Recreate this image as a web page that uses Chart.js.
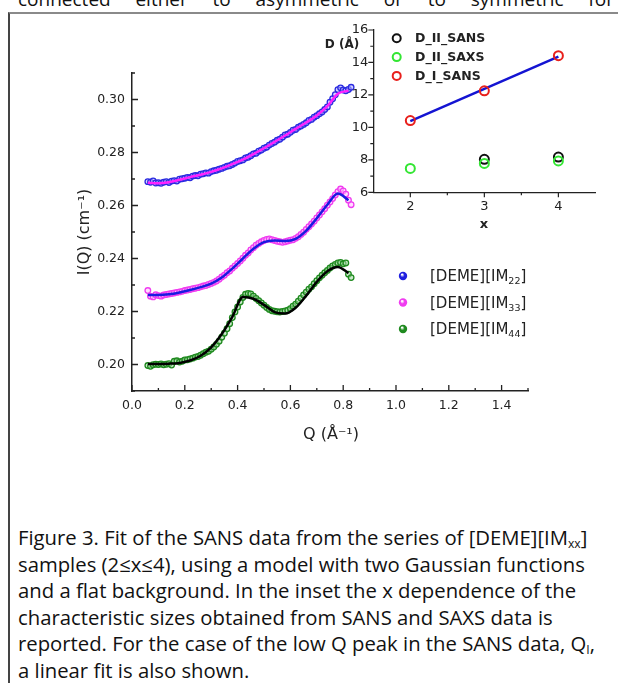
<!DOCTYPE html>
<html>
<head>
<meta charset="utf-8">
<script src="https://cdn.jsdelivr.net/npm/chart.js@4.4.1/dist/chart.umd.min.js"></script>
<style>
html, body { margin: 0; padding: 0; background: #fff; }
body { width: 618px; height: 683px; overflow: hidden; position: relative; font-family: "Open Sans", sans-serif; color: #111; }
#topline { position: absolute; left: 18px; top: -14px; width: 596px; font-size: 19px; display: flex; justify-content: space-between; white-space: nowrap; }
#box { position: absolute; left: 8px; top: 12px; width: 700px; height: 700px; border-left: 2px solid #444; border-top: 2px solid #8a8a8a; }
#main { position: absolute; left: 0; top: 0; }
#inset { position: absolute; left: 300px; top: 10px; }
#caption { position: absolute; left: 18px; top: 524px; line-height: 26.6px; white-space: nowrap; font-size: 18px; }
#caption sub { font-size: 60%; vertical-align: -3px; line-height: 0; }
</style>
</head>
<body>
<div id="topline"><span>connected</span><span>either</span><span>to</span><span>asymmetric</span><span>or</span><span>to</span><span>symmetric</span><span>for</span></div>
<div id="box"></div>
<canvas id="main" width="618" height="470"></canvas>
<canvas id="inset" width="318" height="240"></canvas>
<div id="caption">
<span class="ln">Figure 3. Fit of the SANS data from the series of [DEME][IM<sub>xx</sub>]</span><br>
<span class="ln" id="ref">samples (2≤x≤4), using a model with two Gaussian functions</span><br>
<span class="ln">and a flat background. In the inset the x dependence of the</span><br>
<span class="ln">characteristic sizes obtained from SANS and SAXS data is</span><br>
<span class="ln">reported. For the case of the low Q peak in the SANS data, Q<sub>I</sub>,</span><br>
<span class="ln">a linear fit is also shown.</span>
</div>
<script>
// main plot: Q values of the measured points
const qData = [0.06, 0.07, 0.08, 0.09, 0.10, 0.11, 0.12, 0.13, 0.14, 0.15,
  0.16, 0.17, 0.18, 0.19, 0.20, 0.21, 0.22, 0.23, 0.24, 0.25,
  0.26, 0.27, 0.28, 0.29, 0.30, 0.31, 0.32, 0.33, 0.34, 0.35,
  0.36, 0.37, 0.38, 0.39, 0.40, 0.41, 0.42, 0.43, 0.44, 0.45,
  0.46, 0.47, 0.48, 0.49, 0.50, 0.51, 0.52, 0.53, 0.54, 0.55,
  0.56, 0.57, 0.58, 0.59, 0.60, 0.61, 0.62, 0.63, 0.64, 0.65,
  0.66, 0.67, 0.68, 0.69, 0.70, 0.71, 0.72, 0.73, 0.74, 0.75,
  0.76, 0.77, 0.78, 0.79, 0.80, 0.81, 0.82, 0.83];

const im22 = [0.2690, 0.2688, 0.2693, 0.2685, 0.2686, 0.2684, 0.2688, 0.2690, 0.2687, 0.2692,
  0.2694, 0.2692, 0.2699, 0.2701, 0.2703, 0.2706, 0.2705, 0.2711, 0.2713, 0.2712,
  0.2718, 0.2720, 0.2723, 0.2722, 0.2728, 0.2731, 0.2733, 0.2737, 0.2740, 0.2744,
  0.2748, 0.2750, 0.2755, 0.2760, 0.2766, 0.2769, 0.2772, 0.2779, 0.2782, 0.2788,
  0.2795, 0.2797, 0.2805, 0.2809, 0.2816, 0.2820, 0.2828, 0.2834, 0.2839, 0.2846,
  0.2850, 0.2858, 0.2866, 0.2869, 0.2876, 0.2884, 0.2887, 0.2895, 0.2900, 0.2906,
  0.2912, 0.2921, 0.2925, 0.2933, 0.2939, 0.2946, 0.2953, 0.2962, 0.2972, 0.2990,
  0.3003, 0.3018, 0.3037, 0.3044, 0.3036, 0.3033, 0.3038, 0.3046];

const im33 = [0.2279, 0.2258, 0.2255, 0.2263, 0.2260, 0.2258, 0.2262, 0.2264, 0.2266, 0.2268,
  0.2270, 0.2272, 0.2274, 0.2276, 0.2279, 0.2281, 0.2283, 0.2286, 0.2288, 0.2290,
  0.2293, 0.2296, 0.2298, 0.2302, 0.2306, 0.2310, 0.2315, 0.2322, 0.2330, 0.2337,
  0.2346, 0.2353, 0.2363, 0.2372, 0.2381, 0.2391, 0.2401, 0.2412, 0.2421, 0.2432,
  0.2441, 0.2450, 0.2457, 0.2463, 0.2468, 0.2472, 0.2474, 0.2471, 0.2468, 0.2465,
  0.2463, 0.2461, 0.2463, 0.2466, 0.2469, 0.2471, 0.2476, 0.2482, 0.2491, 0.2499,
  0.2510, 0.2520, 0.2530, 0.2541, 0.2553, 0.2564, 0.2576, 0.2588, 0.2601, 0.2613,
  0.2626, 0.2640, 0.2652, 0.2662, 0.2655, 0.2643, 0.2620, 0.2603];

const im44 = [0.1996, 0.1993, 0.1999, 0.2001, 0.2000, 0.2002, 0.1999, 0.2001, 0.2003, 0.1998,
  0.2012, 0.2014, 0.2009, 0.2012, 0.2017, 0.2018, 0.2021, 0.2024, 0.2028, 0.2030,
  0.2035, 0.2041, 0.2046, 0.2050, 0.2058, 0.2066, 0.2076, 0.2088, 0.2103, 0.2118,
  0.2135, 0.2154, 0.2177, 0.2198, 0.2217, 0.2236, 0.2253, 0.2265, 0.2268, 0.2266,
  0.2258, 0.2249, 0.2241, 0.2232, 0.2224, 0.2215, 0.2208, 0.2203, 0.2201, 0.2199,
  0.2198, 0.2200, 0.2202, 0.2205, 0.2211, 0.2220, 0.2228, 0.2239, 0.2250, 0.2262,
  0.2273, 0.2284, 0.2293, 0.2305, 0.2316, 0.2327, 0.2337, 0.2346, 0.2355, 0.2364,
  0.2372, 0.2378, 0.2383, 0.2385, 0.2380, 0.2383, 0.2341, 0.2328];

// fitted curves
const qFit = [0.06, 0.10, 0.14, 0.18, 0.22, 0.26, 0.30, 0.34, 0.38, 0.42,
  0.46, 0.50, 0.54, 0.58, 0.62, 0.66, 0.70, 0.74, 0.78, 0.82];
const fit22 = [0.2686, 0.2684, 0.2688, 0.2697, 0.2707, 0.2716, 0.2727, 0.2740, 0.2756, 0.2773,
  0.2794, 0.2816, 0.2840, 0.2864, 0.2889, 0.2913, 0.2940, 0.2975, 0.3022, 0.3033];
const fit33 = [0.2262, 0.2262, 0.2265, 0.2272, 0.2281, 0.2292, 0.2305, 0.2328, 0.2362, 0.2400,
  0.2437, 0.2462, 0.2468, 0.2466, 0.2474, 0.2505, 0.2552, 0.2603, 0.2645, 0.2620];
const fit44 = [0.2002, 0.2002, 0.2003, 0.2006, 0.2015, 0.2033, 0.2065, 0.2115, 0.2180, 0.2255,
  0.2248, 0.2225, 0.2198, 0.2192, 0.2214, 0.2260, 0.2312, 0.2352, 0.2368, 0.2345];

const mainXTicks = [0.0, 0.2, 0.4, 0.6, 0.8, 1.0, 1.2, 1.4];
const mainXMinor = [0.1, 0.3, 0.5, 0.7, 0.9, 1.1, 1.3, 1.5];
const mainYTicks = [0.20, 0.22, 0.24, 0.26, 0.28, 0.30];
const mainYMinor = [0.19, 0.21, 0.23, 0.25, 0.27, 0.29, 0.31];
const legendSubs = ['22', '33', '44'];
const legendColors = ['#2020e0', '#f03cf0', '#1f8a1f'];

// inset
const insetX = [2, 3, 4];
const dIISans = [null, 8.03, 8.17];
const dIISaxs = [7.47, 7.78, 7.93];
const dISans = [10.42, 12.25, 14.42];
const fitX = [2, 4];
const fitD = [10.39, 14.36];
const insetXTicks = [2, 3, 4];
const insetXMinor = [2.5, 3.5];
const insetYTicks = [6, 8, 10, 12, 14, 16];
const insetYMinor = [7, 9, 11, 13, 15];
const insetLegend = ['D_II_SANS', 'D_II_SAXS', 'D_I_SANS'];
const insetColors = ['#111111', '#33e633', '#e8201c'];

const axisFont = { family: 'DejaVu Sans', size: 12.5 };
const ink = '#222';

function pts(xs, ys) {
  return xs.map((v, i) => ({ x: v, y: ys[i] }));
}

const mainDecor = {
  id: 'mainDecor',
  afterDraw(chart) {
    const { ctx, chartArea: a, scales: { x, y } } = chart;
    ctx.save();
    ctx.strokeStyle = ink;
    ctx.lineWidth = 1.3;
    ctx.beginPath();
    mainXTicks.forEach(v => { const p = x.getPixelForValue(v); ctx.moveTo(p, a.bottom); ctx.lineTo(p, a.bottom - 6); });
    mainXMinor.forEach(v => { const p = x.getPixelForValue(v); ctx.moveTo(p, a.bottom); ctx.lineTo(p, a.bottom - 3); });
    mainYTicks.forEach(v => { const p = y.getPixelForValue(v); ctx.moveTo(a.left, p); ctx.lineTo(a.left + 6, p); });
    mainYMinor.forEach(v => { const p = y.getPixelForValue(v); ctx.moveTo(a.left, p); ctx.lineTo(a.left + 3, p); });
    ctx.stroke();

    ctx.fillStyle = ink;
    ctx.font = '16px "DejaVu Sans"';
    ctx.textAlign = 'center';
    ctx.textBaseline = 'middle';
    ctx.fillText('Q (Å⁻¹)', 331, 435);
    ctx.save();
    ctx.translate(85, 232);
    ctx.rotate(-Math.PI / 2);
    ctx.fillText('I(Q) (cm⁻¹)', 0, 0);
    ctx.restore();

    // legend
    ctx.textAlign = 'left';
    ctx.textBaseline = 'alphabetic';
    legendSubs.forEach((s, i) => {
      const ly = 276 + i * 26.5;
      const g = ctx.createRadialGradient(402, ly - 1.5, 0.5, 403, ly, 4.2);
      g.addColorStop(0, '#ffffff');
      g.addColorStop(0.45, legendColors[i]);
      g.addColorStop(1, legendColors[i]);
      ctx.fillStyle = g;
      ctx.beginPath();
      ctx.arc(403, ly, 4.2, 0, Math.PI * 2);
      ctx.fill();
      ctx.fillStyle = ink;
      ctx.font = '15px "DejaVu Sans"';
      const base = ly + 5;
      ctx.fillText('[DEME][IM', 430, base);
      let w = ctx.measureText('[DEME][IM').width;
      ctx.font = '9.5px "DejaVu Sans"';
      ctx.fillText(s, 430 + w, base + 3);
      w += ctx.measureText(s).width;
      ctx.font = '15px "DejaVu Sans"';
      ctx.fillText(']', 430 + w, base);
    });
    ctx.restore();
  }
};

new Chart(document.getElementById('main'), {
  type: 'scatter',
  data: {
    datasets: [
      { label: 'fit22', data: pts(qFit, fit22), showLine: true, pointRadius: 0, borderColor: '#ff22ff', borderWidth: 2.5, cubicInterpolationMode: 'monotone', order: 0 },
      { label: 'fit33', data: pts(qFit, fit33), showLine: true, pointRadius: 0, borderColor: '#1a1ae0', borderWidth: 2.5, cubicInterpolationMode: 'monotone', order: 0 },
      { label: 'fit44', data: pts(qFit, fit44), showLine: true, pointRadius: 0, borderColor: '#000000', borderWidth: 2.5, cubicInterpolationMode: 'monotone', order: 0 },
      { label: '[DEME][IM22]', data: pts(qData, im22), pointRadius: 2.8, borderWidth: 1.3, borderColor: '#2a2ae0', backgroundColor: 'rgba(175,175,255,0.55)', order: 1 },
      { label: '[DEME][IM33]', data: pts(qData, im33), pointRadius: 2.8, borderWidth: 1.3, borderColor: '#f03cf0', backgroundColor: 'rgba(255,195,255,0.55)', order: 1 },
      { label: '[DEME][IM44]', data: pts(qData, im44), pointRadius: 2.8, borderWidth: 1.3, borderColor: '#1f8a1f', backgroundColor: 'rgba(160,215,160,0.55)', order: 1 }
    ]
  },
  options: {
    responsive: false,
    animation: false,
    devicePixelRatio: 1,
    layout: { padding: { top: 73, right: 90, left: 0, bottom: 0 } },
    plugins: { legend: { display: false }, tooltip: { enabled: false } },
    scales: {
      x: {
        type: 'linear', min: 0, max: 1.5,
        grid: { display: false, drawTicks: false },
        border: { display: true, color: ink, width: 1.5 },
        afterBuildTicks: s => { s.ticks = mainXTicks.map(v => ({ value: v })); },
        afterFit: s => { s.height = 79; },
        ticks: { padding: 7, color: ink, font: axisFont, maxRotation: 0, autoSkip: false, callback: v => v.toFixed(1) }
      },
      y: {
        type: 'linear', min: 0.19, max: 0.31,
        grid: { display: false, drawTicks: false },
        border: { display: true, color: ink, width: 1.5 },
        afterBuildTicks: s => { s.ticks = mainYTicks.map(v => ({ value: v })); },
        afterFit: s => { s.width = 132; },
        ticks: { padding: 7, color: ink, font: axisFont, autoSkip: false, callback: v => v.toFixed(2) }
      }
    }
  },
  plugins: [mainDecor]
});

const insetDecor = {
  id: 'insetDecor',
  afterDraw(chart) {
    const { ctx, chartArea: a, scales: { x, y } } = chart;
    ctx.save();
    ctx.strokeStyle = ink;
    ctx.lineWidth = 1.2;
    ctx.beginPath();
    insetXTicks.forEach(v => { const p = x.getPixelForValue(v); ctx.moveTo(p, a.bottom); ctx.lineTo(p, a.bottom + 5); });
    insetXMinor.forEach(v => { const p = x.getPixelForValue(v); ctx.moveTo(p, a.bottom); ctx.lineTo(p, a.bottom + 3); });
    insetYTicks.forEach(v => { const p = y.getPixelForValue(v); ctx.moveTo(a.left, p); ctx.lineTo(a.left - 5, p); });
    insetYMinor.forEach(v => { const p = y.getPixelForValue(v); ctx.moveTo(a.left, p); ctx.lineTo(a.left - 3, p); });
    ctx.stroke();

    ctx.fillStyle = ink;
    ctx.textAlign = 'center';
    ctx.textBaseline = 'middle';
    ctx.font = 'bold 12px "DejaVu Sans"';
    ctx.fillText('D (Å)', 42, 35);
    ctx.font = 'bold 13px "DejaVu Sans"';
    ctx.fillText('x', 184, 215);

    ctx.textAlign = 'left';
    insetLegend.forEach((t, i) => {
      const ly = 28.3 + i * 18.8;
      ctx.strokeStyle = insetColors[i];
      ctx.lineWidth = 2;
      ctx.beginPath();
      ctx.arc(96.7, ly, 4, 0, Math.PI * 2);
      ctx.stroke();
      ctx.fillStyle = ink;
      ctx.font = 'bold 12.5px "DejaVu Sans"';
      ctx.fillText(t, 115, ly + 0.5);
    });
    ctx.restore();
  }
};

new Chart(document.getElementById('inset'), {
  type: 'scatter',
  data: {
    datasets: [
      { label: 'D_I_SANS', data: pts(insetX, dISans), pointRadius: 4.5, borderWidth: 2, borderColor: insetColors[2], backgroundColor: 'rgba(0,0,0,0)', order: 0 },
      { label: 'D_II_SAXS', data: pts(insetX, dIISaxs), pointRadius: 4.5, borderWidth: 2, borderColor: insetColors[1], backgroundColor: 'rgba(0,0,0,0)', order: 1 },
      { label: 'D_II_SANS', data: pts(insetX, dIISans), pointRadius: 4.5, borderWidth: 2, borderColor: insetColors[0], backgroundColor: 'rgba(0,0,0,0)', order: 2 },
      { label: 'linear fit', data: pts(fitX, fitD), showLine: true, pointRadius: 0, borderColor: '#1414d2', borderWidth: 2.5, order: 3 }
    ]
  },
  options: {
    responsive: false,
    animation: false,
    devicePixelRatio: 1,
    layout: { padding: { top: 20, right: 22.6, left: 0, bottom: 0 } },
    plugins: { legend: { display: false }, tooltip: { enabled: false } },
    scales: {
      x: {
        type: 'linear', min: 1.5, max: 4.5,
        grid: { display: false, drawTicks: false },
        border: { display: true, color: ink, width: 1.3 },
        afterBuildTicks: s => { s.ticks = insetXTicks.map(v => ({ value: v })); },
        afterFit: s => { s.height = 57.7; },
        ticks: { padding: 7, color: ink, font: { family: 'DejaVu Sans', size: 13 }, maxRotation: 0, autoSkip: false }
      },
      y: {
        type: 'linear', min: 6, max: 16,
        grid: { display: false, drawTicks: false },
        border: { display: true, color: ink, width: 1.3 },
        afterBuildTicks: s => { s.ticks = insetYTicks.map(v => ({ value: v })); },
        afterFit: s => { s.width = 73.3; },
        ticks: { padding: 5, color: ink, font: { family: 'DejaVu Sans', size: 13 }, autoSkip: false }
      }
    }
  },
  plugins: [insetDecor]
});

// caption sized so that its second line spans the same width as in the figure
const ref = document.getElementById('ref');
const cap = document.getElementById('caption');
cap.style.fontSize = (18 * 567 / ref.getBoundingClientRect().width).toFixed(2) + 'px';
</script>
</body>
</html>
